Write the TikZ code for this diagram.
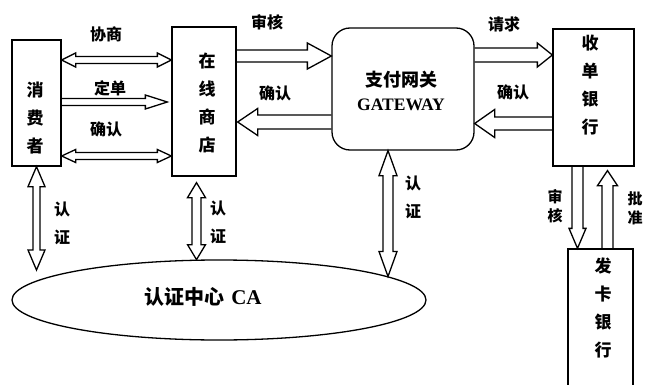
\documentclass[tikz,border=0pt]{standalone}
\usepackage{fontspec}
\setmainfont{Liberation Serif}
\newfontfamily\cjk{Noto Sans CJK SC}
\usetikzlibrary{calc,shapes.geometric}

\tikzset{
  box/.style={draw, line width=1.3pt, rectangle, inner sep=0pt},
  fat/.style={draw, line width=1.3pt, line join=miter},
  lbl/.style={font=\cjk\bfseries\fontsize{16}{16}\selectfont, inner sep=0pt},
  vtxt/.style={font=\cjk\bfseries\fontsize{17}{28}\selectfont, inner sep=0pt, align=center},
  vlbl/.style={font=\cjk\bfseries\fontsize{16}{28}\selectfont, inner sep=0pt, align=center},
  slbl/.style={font=\cjk\bfseries\fontsize{15}{19}\selectfont, inner sep=0pt, align=center},
}

% single hollow arrow: start, end, shaft half width, head half width, head length
\newcommand\fatone[5]{%
  \path (#1) coordinate (fs) (#2) coordinate (fe);
  \path ($(fe)!#5pt!(fs)$) coordinate (fb);
  \draw[fat] ($(fs)!#3pt!90:(fe)$) -- ($(fb)!#3pt!90:(fe)$) -- ($(fb)!#4pt!90:(fe)$)
    -- (fe) -- ($(fb)!#4pt!-90:(fe)$) -- ($(fb)!#3pt!-90:(fe)$) -- ($(fs)!#3pt!-90:(fe)$);
}
% double hollow arrow
\newcommand\fattwo[5]{%
  \path (#1) coordinate (fs) (#2) coordinate (fe);
  \path ($(fs)!#5pt!(fe)$) coordinate (fa) ($(fe)!#5pt!(fs)$) coordinate (fb);
  \draw[fat] (fs) -- ($(fa)!#4pt!90:(fe)$) -- ($(fa)!#3pt!90:(fe)$) -- ($(fb)!#3pt!90:(fe)$)
    -- ($(fb)!#4pt!90:(fe)$) -- (fe) -- ($(fb)!#4pt!-90:(fe)$) -- ($(fb)!#3pt!-90:(fe)$)
    -- ($(fa)!#3pt!-90:(fe)$) -- ($(fa)!#4pt!-90:(fe)$) -- cycle;
}

\begin{document}
\begin{tikzpicture}[x=1pt,y=-1pt]
\clip (0,0) rectangle (645,385);
\fill[white] (0,0) rectangle (645,385);

% boxes
\node[box, minimum width=49pt, minimum height=126pt] (cons) at (36.5,103) {};
\node[box, minimum width=64pt, minimum height=149pt] (st) at (204,101.5) {};
\node[box, rounded corners=18pt, minimum width=142pt, minimum height=122pt] (gw) at (403,89) {};
\node[box, minimum width=81pt, minimum height=137pt] (acq) at (593.5,97.5) {};
\node[box, minimum width=65pt, minimum height=146pt] (iss) at (600.5,322) {};
\node[draw, line width=1.3pt, ellipse, inner sep=0pt, minimum width=414pt, minimum height=80pt] (ca) at (219,300) {};

% box texts
\node[vtxt] (consT) at (35,118.5) {消\\费\\者};
\node[vtxt] (stT) at (207,103.5) {在\\线\\商\\店};
\node[vtxt] (acqT) at (590,85.5) {收\\单\\银\\行};
\node[vtxt] (issT) at (603,307.5) {发\\卡\\银\\行};
\node[inner sep=0pt, align=center] (gwT) at (401,91) {{\cjk\bfseries\fontsize{18}{18}\selectfont 支付网关}\\[9pt]{\bfseries\fontsize{17.5}{17.5}\selectfont GATEWAY}};
\node[inner sep=0pt] (caT) at (203,297) {{\cjk\bfseries\fontsize{20}{20}\selectfont 认证中心}\hspace{7pt}{\bfseries\fontsize{21}{21}\selectfont CA}};

% connectors consumer <-> store
\fattwo{$(cons.east)+(0,-43)$}{$(st.west)+(0,-41.5)$}{3.5}{7}{14}
\fatone{$(cons.east)+(0,-1)$}{$(st.west)+(-4,0.5)$}{3.5}{7}{22}
\fattwo{$(cons.east)+(0,53)$}{$(st.west)+(0,54.5)$}{3.5}{6.5}{14}
% store <-> gateway
\fatone{$(st.east)+(0,-45.5)$}{$(gw.west)+(0,-33)$}{6}{13}{24}
\fatone{$(gw.west)+(0,33)$}{$(st.east)+(1,20.5)$}{7}{13.5}{20}
% gateway <-> acquirer
\fatone{$(gw.east)+(0,-34)$}{$(acq.west)+(0,-42.5)$}{7}{12}{15}
\fatone{$(acq.west)+(0,26)$}{$(gw.east)+(0,34.5)$}{6.5}{14}{20}
% acquirer <-> issuer
\fatone{$(acq.south)+(-16,0)$}{$(iss.north)+(-23,0)$}{5.5}{8.5}{20}
\fatone{$(iss.north)+(7,0)$}{$(acq.south)+(14,4)$}{5.5}{10}{15}
% certification
\coordinate (caL) at (36.5,270);
\coordinate (caG) at ($(ca.center)+(169,-23.5)$);
\fattwo{cons.south}{caL}{3.5}{8.5}{20}
\fattwo{$(st.south)+(-7.5,6)$}{$(ca.north)+(-22.5,0.3)$}{4.5}{9}{15}
\fattwo{$(gw.south)+(-15,0)$}{caG}{5}{9}{25}

% labels
\node[lbl] (l1) at (106,34) {协商};
\node[lbl] (l2) at (110,88) {定单};
\node[lbl] (l3) at (106,129) {确认};
\node[lbl] (l4) at (267,22) {审核};
\node[lbl] (l5) at (275,93) {确认};
\node[lbl] (l6) at (504,24) {请求};
\node[lbl] (l7) at (513,92) {确认};
\node[vlbl] (l8) at (62,223.5) {认\\证};
\node[vlbl] (l9) at (218,222) {认\\证};
\node[vlbl] (l10) at (413,197.5) {认\\证};
\node[slbl] (l11) at (555,206) {审\\核};
\node[slbl] (l12) at (635,208) {批\\准};
\end{tikzpicture}
\end{document}
